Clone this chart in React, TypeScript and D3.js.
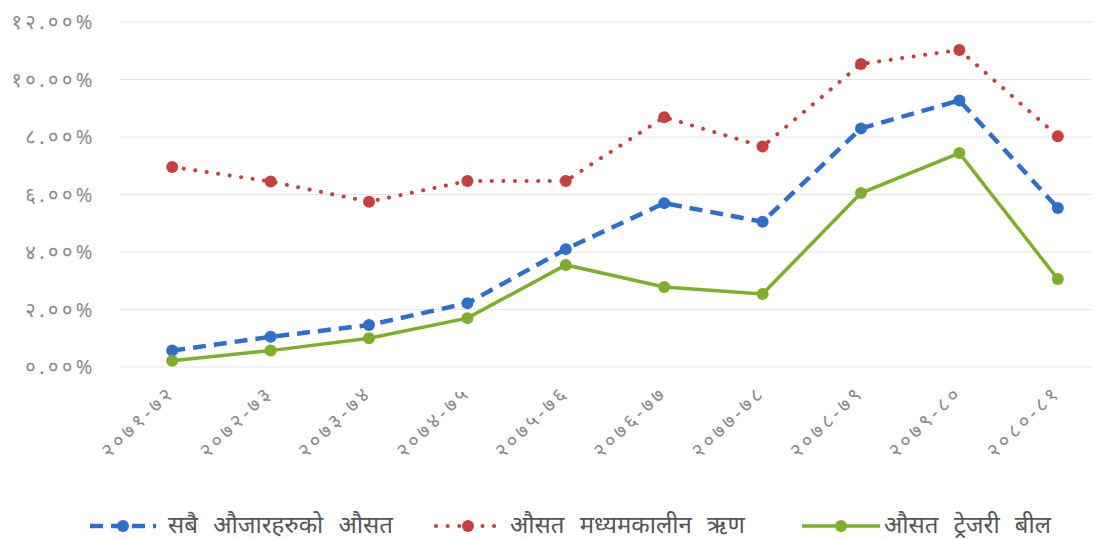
import React from "react";
import * as d3 from "d3";

const categories = ["२०७१-७२", "२०७२-७३", "२०७३-७४", "२०७४-७५", "२०७५-७६", "२०७६-७७", "२०७७-७८", "२०७८-७९", "२०७९-८०", "२०८०-८१"];
const allInstruments = [0.57, 1.05, 1.46, 2.22, 4.1, 5.7, 5.05, 8.3, 9.27, 5.53];
const mediumTerm = [6.96, 6.45, 5.75, 6.47, 6.47, 8.69, 7.67, 10.54, 11.03, 8.03];
const treasuryBill = [0.22, 0.57, 1.0, 1.7, 3.55, 2.78, 2.54, 6.05, 7.44, 3.06];
const yTicks = [0, 2, 4, 6, 8, 10, 12];
const yTickLabels = ["०.००%", "२.००%", "४.००%", "६.००%", "८.००%", "१०.००%", "१२.००%"];
const seriesNames = ["सबै औजारहरुको औसत", "औसत मध्यमकालीन ऋण", "औसत ट्रेजरी बील"];

const W = 1101, H = 539;
const FONT = "'Noto Sans', 'Noto Sans Devanagari', 'Lohit Devanagari', sans-serif";

export default function App() {
  const x = d3.scaleBand<string>().domain(categories).range([123, 1107]);
  const y = d3.scaleLinear().domain([0, 12]).range([367, 22]);
  const cx = (c: string) => (x(c) as number) + x.bandwidth() / 2;
  const line = d3.line<number>().x((_, i) => cx(categories[i])).y((v) => y(v));

  const series = [
    { name: seriesNames[0], data: allInstruments, color: "#2f6fcc", width: 4.5, dash: "13 8", cap: "butt" },
    { name: seriesNames[1], data: mediumTerm, color: "#c4413e", width: 4, dash: "0.1 11.5", cap: "round" },
    { name: seriesNames[2], data: treasuryBill, color: "#7fae2c", width: 3.5, dash: null, cap: "butt" },
  ];
  const legend = [
    { x0: 90, x1: 156, tx: 168 },
    { x0: 436, x1: 500, tx: 510 },
    { x0: 802, x1: 880, tx: 884 },
  ];

  return (
    <svg width={W} height={H} style={{ position: "absolute", left: 0, top: 0, background: "#fff" }}>
      <g>
        {yTicks.map((t) => (
          <line key={t} x1={120} x2={1092} y1={y(t)} y2={y(t)} stroke="#e4e6ec" strokeWidth={1.2} />
        ))}
        {yTicks.map((t, i) => (
          <text key={"l" + t} x={96} y={y(t) + 7} textAnchor="end" fontFamily={FONT} fontSize={20} letterSpacing={3.5} fill="#8a8a8a">
            {yTickLabels[i]}
          </text>
        ))}
        {categories.map((c) => (
          <text
            key={c}
            transform={`translate(${cx(c) + 4},${394}) rotate(-44)`}
            textAnchor="end"
            fontFamily={FONT}
            fontSize={20}
            letterSpacing={3.5}
            fill="#8a8a8a"
          >
            {c}
          </text>
        ))}
      </g>
      {series.map((s) => (
        <g key={s.name}>
          <path
            d={line(s.data) || ""}
            fill="none"
            stroke={s.color}
            strokeWidth={s.width}
            strokeDasharray={s.dash || undefined}
            strokeLinecap={s.cap as any}
          />
          {s.data.map((v, i) => (
            <circle key={i} cx={cx(categories[i])} cy={y(v)} r={6} fill={s.color} />
          ))}
        </g>
      ))}
      {series.map((s, i) => {
        const L = legend[i];
        return (
          <g key={"lg" + i}>
            <line
              x1={L.x0}
              x2={L.x1}
              y1={526}
              y2={526}
              stroke={s.color}
              strokeWidth={s.width}
              strokeDasharray={s.dash || undefined}
              strokeLinecap={s.cap as any}
            />
            <circle cx={(L.x0 + L.x1) / 2} cy={526} r={6} fill={s.color} />
            <text x={L.tx} y={533} fontFamily={FONT} fontSize={24} wordSpacing={9} fill="#555">
              {s.name}
            </text>
          </g>
        );
      })}
    </svg>
  );
}
